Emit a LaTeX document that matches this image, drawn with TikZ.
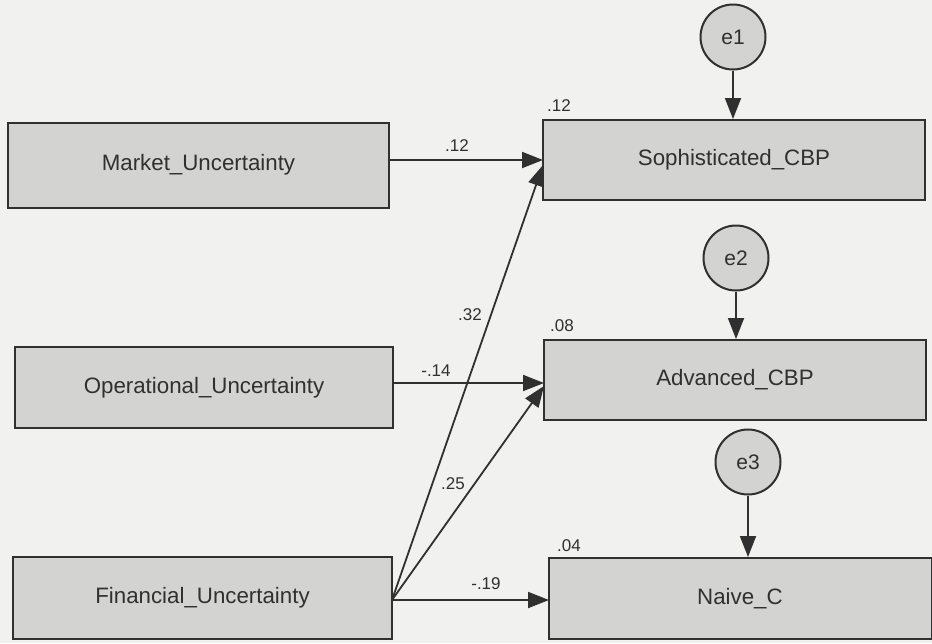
\documentclass[tikz,border=0pt]{standalone}
\usepackage{fontspec}
\setmainfont{Liberation Sans}
\usetikzlibrary{arrows.meta}
\definecolor{bgc}{HTML}{F1F1EF}
\definecolor{boxc}{HTML}{D3D3D2}
\definecolor{inkc}{HTML}{303030}
\begin{document}
\begin{tikzpicture}[x=1pt,y=-1pt,
  varbox/.style={draw=inkc,line width=2pt,fill=boxc,rectangle,inner sep=0pt,
    text=inkc,font=\fontsize{22.3}{25}\selectfont},
  errc/.style={draw=inkc,line width=2pt,fill=boxc,circle,inner sep=0pt,
    minimum size=65pt,text=inkc,font=\fontsize{21}{24}\selectfont},
  path/.style={draw=inkc,line width=1.8pt,-{Triangle[length=21pt,width=16pt]}},
  coef/.style={text=inkc,font=\fontsize{17}{19}\selectfont,inner sep=0pt}]
\fill[bgc] (0,0) rectangle (932,643);
\useasboundingbox (0,0) rectangle (932,643);

% exogenous variables
\node[varbox,minimum width=381pt,minimum height=85pt] (mu) at (198.5,165) {Market\_Uncertainty};
\node[varbox,minimum width=378pt,minimum height=81pt] (ou) at (204,387.5) {Operational\_Uncertainty};
\node[varbox,minimum width=379pt,minimum height=82pt] (fu) at (202.5,598) {Financial\_Uncertainty};

% endogenous variables
\node[varbox,minimum width=382pt,minimum height=80pt] (sc) at (734,160) {Sophisticated\_CBP};
\node[varbox,minimum width=382pt,minimum height=80pt] (ac) at (735,380) {Advanced\_CBP};
\node[varbox,minimum width=383pt,minimum height=81pt] (nc) at (740,598.5) {Naive\_C};

% error terms
\node[errc] (e1) at (733,37) {e1};
\node[errc] (e2) at (736,258) {e2};
\node[errc] (e3) at (748,462) {e3};

% anchor points on box edges
\coordinate (muR) at (389,160);
\coordinate (ouR) at (393,383);
\coordinate (fuR) at (392,600);
\coordinate (scL) at (543,160);
\coordinate (scL2) at (543,165);
\coordinate (acL) at (544,383);
\coordinate (acL2) at (544,386);
\coordinate (ncL) at (549,600);

% regression paths
\draw[path] (muR) -- (scL);
\draw[path] (fuR) -- (scL2);
\draw[path] (ouR) -- (acL);
\draw[path] (fuR) -- (acL2);
\draw[path] (fuR) -- (ncL);

% error paths
\draw[path] (e1.south) -- (e1.south |- sc.north);
\draw[path] (e2.south) -- (e2.south |- ac.north);
\draw[path] (e3.south) -- (e3.south |- nc.north);

% path coefficients
\node[coef] (c1) at (457,146) {.12};
\node[coef] (c2) at (470,315) {.32};
\node[coef] (c3) at (436,371) {-.14};
\node[coef] (c4) at (453,484) {.25};
\node[coef] (c5) at (486,584) {-.19};

% squared multiple correlations
\node[coef] (r1) at (559,106) {.12};
\node[coef] (r2) at (562,326) {.08};
\node[coef] (r3) at (569,546) {.04};
\end{tikzpicture}
\end{document}
